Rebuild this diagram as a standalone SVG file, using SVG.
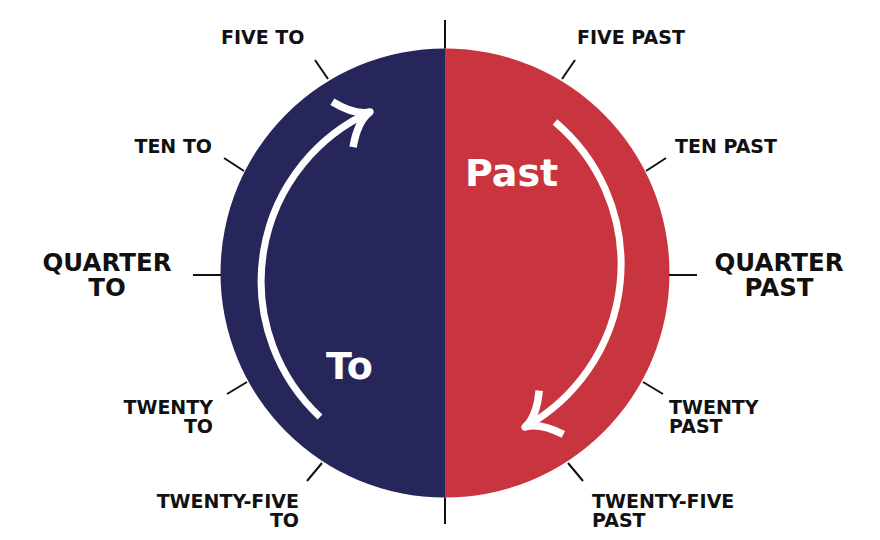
<svg xmlns="http://www.w3.org/2000/svg" width="880" height="540" viewBox="0 0 880 540">
  <style>
    .lbl { font-family: "DejaVu Sans", "Liberation Sans", sans-serif; font-weight: bold; font-size: 19px; fill: #111111; }
    .big { font-size: 24.5px; }
    .inner { font-family: "DejaVu Sans", "Liberation Sans", sans-serif; font-weight: bold; font-size: 38px; fill: #ffffff; }
    .tick { stroke: #111111; stroke-width: 2; fill: none; }
    .arc { stroke: #ffffff; stroke-width: 7; fill: none; }
  </style>
  <defs>
    <marker id="ah" markerUnits="userSpaceOnUse" orient="auto" viewBox="-40 -40 80 80" markerWidth="80" markerHeight="80" refX="0" refY="0" overflow="visible">
      <path d="M -30 -25 Q -15 -3 0 0 Q -15 3 -30 25" fill="none" stroke="#ffffff" stroke-width="7.5" stroke-linejoin="round"/>
    </marker>
  </defs>
  <rect width="880" height="540" fill="#ffffff"/>

  <g id="dial">
    <path d="M 445 48.5 A 224.5 224.5 0 0 0 445 497.5 Z" fill="#27265a"/>
    <path d="M 445 48.5 A 224.5 224.5 0 0 1 445 497.5 Z" fill="#c9353f"/>
  </g>

  <g id="connectors">
    <line class="tick" x1="445" y1="20" x2="445" y2="48.5"/>
    <line class="tick" x1="562" y1="79" x2="575" y2="60"/>
    <line class="tick" x1="646" y1="171" x2="666" y2="158"/>
    <line class="tick" x1="669" y1="275" x2="697" y2="275"/>
    <line class="tick" x1="643" y1="382" x2="663" y2="394"/>
    <line class="tick" x1="568" y1="463" x2="583" y2="481"/>
    <line class="tick" x1="445" y1="497.5" x2="445" y2="524"/>
    <line class="tick" x1="322" y1="463" x2="307" y2="481"/>
    <line class="tick" x1="247" y1="382" x2="227" y2="394"/>
    <line class="tick" x1="221" y1="275" x2="193" y2="275"/>
    <line class="tick" x1="244" y1="171" x2="224" y2="158"/>
    <line class="tick" x1="328" y1="79" x2="315" y2="60"/>
  </g>

  <g id="arrows">
    <path class="arc" d="M 555 122 A 186 186 0 0 1 525 427" marker-end="url(#ah)"/>
    <path class="arc" d="M 320 417 A 186 186 0 0 1 370 112" marker-end="url(#ah)"/>
  </g>

  <g id="past-label"><text class="inner" x="465" y="186">Past</text></g>
  <g id="to-label"><text class="inner" x="326" y="379">To</text></g>

  <g id="five-past"><text class="lbl" x="577" y="44">FIVE PAST</text></g>
  <g id="ten-past"><text class="lbl" x="675" y="153">TEN PAST</text></g>
  <g id="quarter-past"><text class="lbl big" text-anchor="middle"><tspan x="779" y="271">QUARTER</tspan><tspan x="779" y="296">PAST</tspan></text></g>
  <g id="twenty-past"><text class="lbl"><tspan x="669" y="414">TWENTY</tspan><tspan x="669" y="433">PAST</tspan></text></g>
  <g id="twenty-five-past"><text class="lbl"><tspan x="592" y="508">TWENTY-FIVE</tspan><tspan x="592" y="527">PAST</tspan></text></g>

  <g id="five-to"><text class="lbl" x="221" y="44">FIVE TO</text></g>
  <g id="ten-to"><text class="lbl" text-anchor="end" x="212" y="153">TEN TO</text></g>
  <g id="quarter-to"><text class="lbl big" text-anchor="middle"><tspan x="107" y="271">QUARTER</tspan><tspan x="107" y="296">TO</tspan></text></g>
  <g id="twenty-to"><text class="lbl" text-anchor="end"><tspan x="213" y="414">TWENTY</tspan><tspan x="213" y="433">TO</tspan></text></g>
  <g id="twenty-five-to"><text class="lbl" text-anchor="end"><tspan x="299" y="508">TWENTY-FIVE</tspan><tspan x="299" y="527">TO</tspan></text></g>
</svg>
